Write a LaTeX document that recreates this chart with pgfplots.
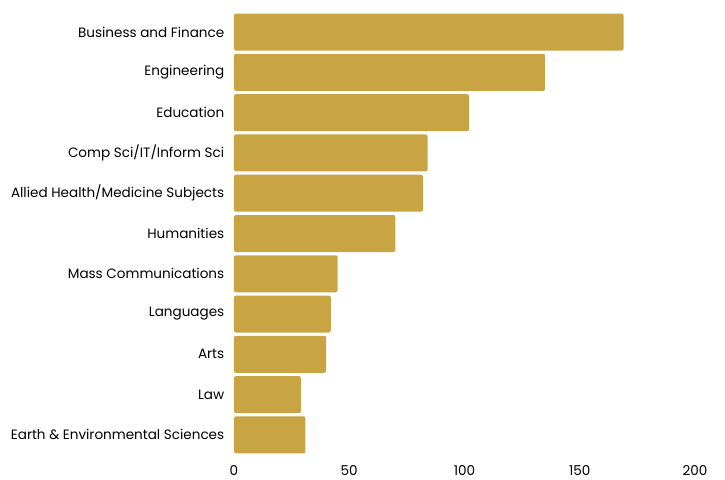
\documentclass[border=0pt]{standalone}
\usepackage{pgfplots}
\pgfplotsset{compat=1.18}
\usepackage{fontspec}
\setmainfont{Poppins}
\definecolor{gold}{HTML}{C8A442}
\begin{document}
\begin{tikzpicture}
\useasboundingbox (-234bp,-25bp) rectangle (491bp,455bp);
\begin{axis}[
  at={(0,0)}, anchor=south west,
  scale only axis, width=461bp, height=443bp,
  xbar, bar width=37bp,
  xmin=0, xmax=200, ymin=-0.5, ymax=10.5,
  y dir=reverse,
  axis line style={draw=none},
  tick style={draw=none},
  xtick={0,50,100,150,200},
  ytick={0,...,10},
  yticklabels={Business and Finance, Engineering, Education, Comp Sci/IT/Inform Sci, Allied Health/Medicine Subjects, Humanities, Mass Communications, Languages, Arts, Law, Earth \& Environmental Sciences},
  /pgf/number format/assume math mode=true,
  ticklabel style={font=\fontsize{13.6}{15}\selectfont},
  yticklabel style={xshift=-2bp},
  xticklabel style={yshift=-7bp},
]
\addplot[fill=gold, draw=none, rounded corners=2bp] coordinates {
(169,0) (135,1) (102,2) (84,3) (82,4) (70,5) (45,6) (42,7) (40,8) (29,9) (31,10)};
\end{axis}
\end{tikzpicture}
\end{document}
